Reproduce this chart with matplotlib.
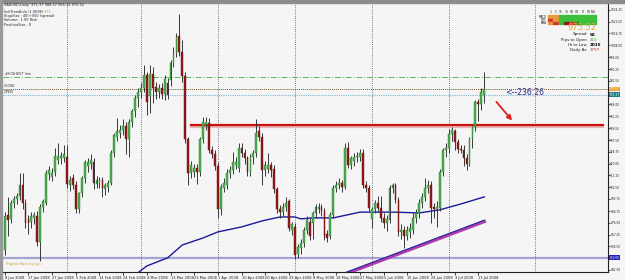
import matplotlib
matplotlib.use("Agg")
import matplotlib.pyplot as plt
from matplotlib.patches import Rectangle
from matplotlib.transforms import blended_transform_factory

# XAUUSD daily, one bar per index (Sunday bars included)
opens = [856, 882, 879, 891, 894, 896, 904, 891, 879, 877,
         880, 881, 862, 888, 891, 912, 910, 914, 923, 924,
         924, 925, 904, 909, 904, 886, 898, 909, 918, 920,
         921, 905, 906, 908, 901, 903, 906, 928, 940, 943,
         945, 948, 938, 951, 959, 969, 973, 976, 986, 970,
         987, 977, 973, 976, 972, 980, 982, 995, 1002, 1015,
         1003, 985, 938, 913, 914, 917, 914, 938, 949, 950,
         930, 927, 918, 886, 902, 904, 913, 915, 919, 917,
         932, 928, 924, 914, 925, 928, 944, 940, 915, 916,
         919, 916, 901, 886, 884, 888, 892, 871, 873, 853,
         857, 861, 871, 877, 876, 883, 886, 888, 885, 868,
         866, 882, 902, 904, 906, 903, 932, 919, 922, 925,
         925, 928, 904, 902, 879, 886, 891, 887, 880, 876,
         878, 902, 904, 893, 869, 871, 866, 869, 871, 880,
         883, 891, 895, 902, 904, 888, 886, 887, 914, 930,
         932, 942, 944, 936, 931, 930, 924, 920, 938, 947,
         966, 964, 971.37]
highs = [884, 895, 893, 896, 898, 913, 913, 894, 882, 884,
         884, 885, 890, 894, 915, 918, 917, 932, 935, 929,
         934, 934, 911, 912, 907, 899, 911, 923, 924, 927,
         924, 911, 910, 910, 906, 908, 930, 943, 954, 949,
         953, 951, 953, 961, 971, 976, 980, 993, 988, 993,
         992, 981, 979, 980, 986, 984, 997, 1007, 1017, 1031,
         1012, 988, 940, 922, 920, 920, 940, 955, 955, 954,
         933, 930, 921, 905, 909, 916, 918, 929, 925, 935,
         935, 931, 926, 927, 930, 953, 948, 943, 922, 928,
         921, 919, 903, 889, 891, 895, 894, 877, 876, 860,
         864, 873, 881, 880, 885, 890, 891, 890, 887, 871,
         884, 904, 907, 909, 908, 935, 936, 926, 928, 929,
         931, 931, 907, 904, 888, 893, 896, 896, 883, 882,
         904, 906, 906, 895, 875, 874, 874, 876, 883, 886,
         894, 898, 909, 908, 907, 891, 892, 916, 932, 935,
         946, 947, 946, 938, 934, 934, 927, 940, 948, 967,
         968, 976, 988.27]
lows = [852, 866, 876, 887, 890, 893, 886, 872, 868, 872,
        875, 859, 848, 884, 889, 908, 907, 911, 920, 920,
        921, 902, 900, 901, 883, 883, 895, 906, 914, 916,
        901, 902, 902, 895, 897, 899, 904, 925, 937, 939,
        941, 927, 925, 947, 955, 962, 969, 973, 956, 958,
        965, 968, 969, 968, 967, 968, 978, 992, 999, 1000,
        981, 935, 904, 909, 910, 905, 911, 935, 945, 928,
        924, 915, 880, 882, 899, 901, 909, 912, 916, 914,
        925, 920, 911, 911, 920, 925, 937, 904, 911, 913,
        910, 898, 883, 880, 881, 885, 870, 867, 849, 850,
        853, 858, 868, 863, 864, 880, 883, 881, 863, 862,
        864, 880, 899, 901, 899, 901, 917, 916, 918, 921,
        922, 902, 899, 885, 872, 883, 885, 877, 872, 870,
        876, 898, 891, 866, 864, 857, 863, 865, 868, 876,
        880, 887, 892, 898, 876, 880, 873, 885, 911, 925,
        928, 937, 930, 928, 928, 918, 915, 918, 932, 944,
        952, 960, 965.32]
closes = [881, 878, 891, 894, 896, 904, 891, 876, 876, 881,
          882, 862, 888, 892, 913, 915, 913, 926, 926, 926,
          927, 905, 908, 904, 886, 898, 909, 921, 921, 923,
          906, 908, 908, 902, 904, 906, 928, 941, 944, 945,
          948, 938, 951, 959, 969, 973, 976, 986, 966, 987,
          976, 973, 976, 972, 983, 971, 995, 1002, 1014, 1003,
          985, 938, 913, 919, 917, 914, 938, 951, 951, 930,
          927, 918, 886, 903, 906, 913, 915, 921, 921, 932,
          928, 924, 914, 925, 928, 943, 940, 915, 919, 919,
          915, 901, 886, 884, 888, 891, 872, 875, 852, 858,
          861, 871, 878, 866, 883, 888, 888, 885, 866, 865,
          882, 902, 904, 906, 903, 932, 919, 924, 925, 926,
          928, 904, 902, 887, 886, 891, 887, 880, 876, 879,
          902, 904, 893, 869, 871, 866, 871, 872, 880, 883,
          891, 895, 902, 904, 887, 886, 888, 914, 930, 932,
          942, 945, 936, 931, 930, 924, 920, 938, 947, 966,
          964, 973, 975.52]

# moving average (blue) and trendline (magenta)
ma_bars = [45, 48, 55, 60, 67, 72, 80, 87, 93, 98, 100, 104, 111, 120, 131, 140, 147, 154, 162]
ma_vals = [839, 844, 850, 859.6, 864.8, 869.3, 873, 877.5, 880.4, 880.4, 879, 879.7, 879.7,
           884, 884, 883.4, 885.7, 890, 895.3]
trend_bars = [115, 162]
trend_vals = [838, 877]
resist_bars = [63, 202]
resist_level = 948.8
high_line = 984.5
close_price = 975.52
open_price = 971.37
low_line = 850.0
month_starts = [21, 46, 72, 98, 124, 150, 179]

date_labels = ["8 Jan 2008", "17 Jan 2008", "27 Jan 2008", "5 Feb 2008", "14 Feb 2008",
               "24 Feb 2008", "4 Mar 2008", "13 Mar 2008", "23 Mar 2008", "1 Apr 2008",
               "10 Apr 2008", "20 Apr 2008", "29 Apr 2008", "8 May 2008", "18 May 2008",
               "27 May 2008", "5 Jun 2008", "15 Jun 2008", "24 Jun 2008", "3 Jul 2008",
               "13 Jul 2008"]
date_bars = [8 * i for i in range(len(date_labels))]
price_ticks = [1034.25, 1025.50, 1016.75, 1008.00, 999.00, 990.25, 981.50, 964.00, 955.25,
               946.50, 937.50, 928.75, 920.00, 911.25, 902.50, 893.75, 884.75, 876.00,
               867.25, 858.50, 841.00]

W, H = 625, 280
BG = "#f5f5f5"
fig = plt.figure(figsize=(W / 100, H / 100), dpi=100, facecolor=BG)
ax = fig.add_axes([3 / W, 8 / H, 605 / W, 269 / H], facecolor=BG)


def px(x, y):
    return x / W, 1 - y / H


# horizontal reference lines
ax.axhline(high_line, color="#5cb85c", lw=0.7, ls=(0, (6, 2, 1, 2)))
ax.axhline(close_price, color="#6b5a2a", lw=0.7, ls=(0, (1, 1)))
ax.axhline(open_price, color="#7fb7d6", lw=0.8, ls=(0, (1, 1)))
ax.axhline(low_line, color="#a3a3d6", lw=1.6)

for b in month_starts:
    ax.axvline(b, color="#505050", lw=0.6, ls=(0, (1, 1.6)))

# candles
x = list(range(len(opens)))
ax.vlines(x, lows, highs, color="#383838", lw=0.7, zorder=3)
bull = [i for i in x if closes[i] >= opens[i]]
bear = [i for i in x if closes[i] < opens[i]]
ax.bar(bull, [max(closes[i] - opens[i], 0.6) for i in bull], bottom=[opens[i] for i in bull],
       width=0.62, color="#4caf50", edgecolor="#2d7a30", linewidth=0.3, zorder=4)
ax.bar(bear, [max(opens[i] - closes[i], 0.6) for i in bear], bottom=[closes[i] for i in bear],
       width=0.62, color="#8e1b1b", edgecolor="#6a1010", linewidth=0.3, zorder=4)

# indicators / drawings
ax.plot(ma_bars, ma_vals, color="#1a1a9a", lw=1.0, zorder=2)
ax.plot(trend_bars, trend_vals, color="#b03cb0", lw=2.4, zorder=2)
ax.plot(trend_bars, [v + 1.0 for v in trend_vals], color="#2a2a9a", lw=0.8, zorder=2)
ax.plot(resist_bars, [resist_level - 1.3] * 2, color="#e8b4b4", lw=1.6, zorder=2)
ax.plot(resist_bars, [resist_level] * 2, color="#cc1010", lw=1.6, zorder=2)
ax.annotate("", xy=(172, 950.5), xytext=(165.5, 967.5),
            arrowprops=dict(arrowstyle="-|>", color="#e02020", lw=1.3, mutation_scale=7))
ax.text(169, 972.7, "<--236:26", color="#2a2a8a", fontsize=5.6, va="center")

ax.text(0.0, high_line + 0.8, "#HIGHEST line", fontsize=2.5, color="#303030", va="bottom")
ax.text(-0.3, close_price + 0.6, "CLOSE", fontsize=2.5, color="#303030", va="bottom")
ax.text(-0.3, open_price + 0.4, "OPEN", fontsize=2.5, color="#303030", va="bottom")
ax.text(0.5, 845.5, "Signal Bars by sja", fontsize=2.8, color="#d4a020", va="center")

ax.set_xlim(-0.6, 203.8)
ax.set_ylim(839.5, 1039.4)

# axes styling
ax.set_xticks(date_bars)
ax.set_xticklabels(date_labels, fontsize=2.6, color="#202020", ha="left")
ax.yaxis.tick_right()
ax.set_yticks(price_ticks)
ax.set_yticklabels([f"{v:.2f}" for v in price_ticks], fontsize=2.1, color="#202020")
ax.tick_params(axis="x", length=1.8, width=0.5, pad=1)
ax.tick_params(axis="y", length=1.2, width=0.5, pad=0.5)
for s in ["top", "left"]:
    ax.spines[s].set_visible(False)
for s in ["right", "bottom"]:
    ax.spines[s].set_color("#202020")
    ax.spines[s].set_linewidth(0.8)

tr = blended_transform_factory(ax.transAxes, ax.transData)
for val, fc in [(close_price, "#e8a030"), (open_price, "#1f7f86"), (low_line, "#2020c0")]:
    ax.text(1.003, val, f"{val:.2f}", transform=tr, fontsize=2.1, color="white", va="center",
            bbox=dict(boxstyle="square,pad=0.15", fc=fc, ec="none"))

# frame bands
fig.patches.append(Rectangle((0, 1 - 3 / H), 1, 3 / H, transform=fig.transFigure,
                             color="#8c8c8c", zorder=0))
fig.patches.append(Rectangle((0, 0), 2 / W, 1, transform=fig.transFigure,
                             color="#9a9a9a", zorder=0))

# top-left info block
info = ["XAUUSD,Daily  971.37 988.27 965.32 975.52", ".",
        "Ind:TrendInfo (1.0096)", "StopSize : 40(+)/50 (spread)",
        "Volume : 1.00 Risk", "PositionSize : 0"]
info_y = [5, 8, 12, 16, 20, 25]
info_texts = []
for t, yy in zip(info, info_y):
    info_texts.append(fig.text(*px(4, yy), t, fontsize=2.5, color="#202020", va="center"))
ax.annotate(" 975", xy=(1, 0.5), xycoords=info_texts[2], fontsize=2.5, color="#d4a020",
            va="center", ha="left", annotation_clip=False)

# top-right trend panel
cols = ["1", "5", "15", "30", "H1", "H4", "D", "W", "MN"]
rows = ["MACD", "STR", "EMA"]
cell_colors = [
    ["#e89a3c", "#e89a3c", "#3cc03c", "#3cc03c", "#3cc03c", "#3cc03c", "#3cc03c", "#3cc03c", "#3cc03c"],
    ["#d03a2a", "#e89a3c", "#3cc03c", "#3cc03c", "#3cc03c", "#3cc03c", "#3cc03c", "#3cc03c", "#3cc03c"],
    ["#e89a3c", "#d03a2a", "#3cc03c", "#8a1a1a", "#d03a2a", "#2e8b2e", "#3cc03c", "#3cc03c", "#3cc03c"],
]
for i, c in enumerate(cols):
    fig.text(*px(550.2 + i * 5.4, 12.3), c, fontsize=2.2, color="#202020", ha="center", va="center")
for r, name in enumerate(rows):
    fig.text(*px(546.5, 16.5 + r * 3.2), name, fontsize=2.0, color="#202020", ha="right", va="center")
    for i in range(len(cols)):
        x0, y0 = px(548 + i * 5.4, 15.3 + r * 3.2 + 2.6)
        fig.patches.append(Rectangle((x0, y0), 4.4 / W, 2.6 / H, transform=fig.transFigure,
                                     color=cell_colors[r][i], zorder=3))

fig.text(*px(597, 28), "975.52", fontsize=6.0, color="#e8a33c", ha="right", va="center")
stats = [("Spread", "50", "#000000", "bold"), ("Pips to Open", "415", "#30b030", "normal"),
         ("Hi to Low", "2015", "#000000", "bold"), ("Daily Av", "1797", "#c03030", "normal")]
for k, (lab, val, col, wt) in enumerate(stats):
    yy = 34.5 + k * 5.2
    fig.text(*px(587, yy), lab, fontsize=3.0, color="#202020", ha="right", va="center")
    fig.text(*px(589.5, yy), val, fontsize=3.0, color=col, ha="left", va="center", fontweight=wt)

fig.savefig("out.png", dpi=100, facecolor=BG)
